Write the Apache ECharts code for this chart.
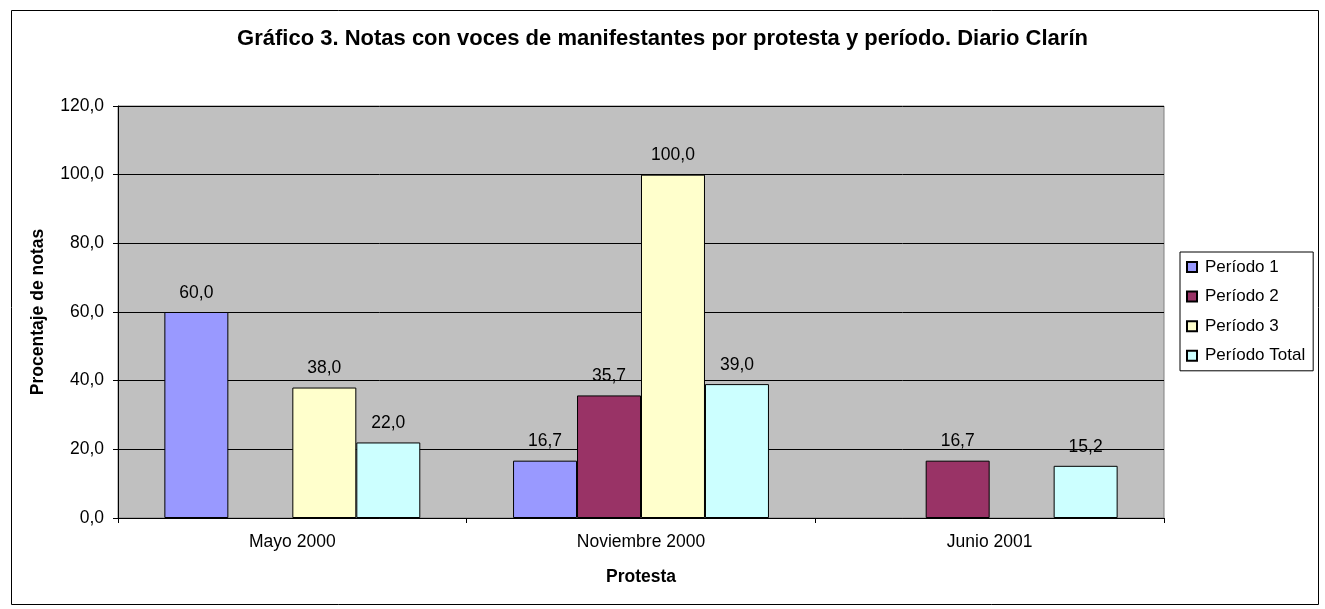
<!DOCTYPE html>
<html><head><meta charset="utf-8">
<script src="https://cdn.jsdelivr.net/npm/echarts@6/dist/echarts.min.js"></script>
<style>html,body{margin:0;padding:0;background:#fff}#c{width:1325px;height:609px}</style>
</head><body><div id="c"></div>
<script>
const categories = ['Mayo 2000', 'Noviembre 2000', 'Junio 2001'];
const seriesNames = ['Período 1', 'Período 2', 'Período 3', 'Período Total'];
const periodo1 = [60.0, 16.7, null];
const periodo2 = [null, 35.7, 16.7];
const periodo3 = [38.0, 100.0, null];
const periodoTotal = [22.0, 39.0, 15.2];
const yTicks = [0, 20, 40, 60, 80, 100, 120];
const colors = ['#9999FF', '#993366', '#FFFFCC', '#CCFFFF'];
const dataSets = [periodo1, periodo2, periodo3, periodoTotal];
const fmt = v => Number(v).toFixed(1).replace('.', ',');
const FF = 'Liberation Sans, Arial, sans-serif';
const FS = 17.5;

const chart = echarts.init(document.getElementById('c'));
chart.setOption({
  animation: false,
  backgroundColor: '#fff',
  textStyle: { fontFamily: FF },
  title: {
    text: 'Gráfico 3. Notas con voces de manifestantes por protesta y período. Diario Clarín',
    left: 'center', top: 23,
    textStyle: { fontFamily: FF, fontSize: 22, fontWeight: 'bold', color: '#000' }
  },
  graphic: [{
    type: 'rect', left: 9, top: 8, shape: { width: 1307, height: 594 },
    style: { fill: 'none', stroke: '#000', lineWidth: 1 }, silent: true, z: -1
  }],
  legend: {
    orient: 'vertical', left: 1180, top: 252,
    data: seriesNames,
    icon: 'rect', itemWidth: 10, itemHeight: 10, itemGap: 9.6,
    padding: [5, 8, 5, 6],
    borderColor: '#000', borderWidth: 1,
    textStyle: { fontFamily: FF, fontSize: 17, color: '#000', lineHeight: 20, padding: [0, 0, 0, 3] }
  },
  grid: { left: 118, right: 161, top: 106, bottom: 91, show: true, backgroundColor: '#C0C0C0', borderColor: '#808080', borderWidth: 1 },
  xAxis: {
    type: 'category', data: categories,
    name: 'Protesta', nameLocation: 'middle', nameGap: 50,
    nameTextStyle: { fontFamily: FF, fontSize: FS, fontWeight: 'bold', color: '#000' },
    axisLine: { lineStyle: { color: '#000' } },
    axisTick: { show: true, length: 5, lineStyle: { color: '#000' } },
    axisLabel: { fontFamily: FF, fontSize: FS, color: '#000', margin: 15 }
  },
  yAxis: {
    type: 'value', min: yTicks[0], max: yTicks[yTicks.length - 1], interval: 20,
    name: 'Procentaje de notas', nameLocation: 'middle', nameGap: 71, nameRotate: 90,
    nameTextStyle: { fontFamily: FF, fontSize: FS, fontWeight: 'bold', color: '#000' },
    axisLine: { show: true, lineStyle: { color: '#000' } },
    axisTick: { show: true, length: 5, lineStyle: { color: '#000' } },
    axisLabel: { fontFamily: FF, fontSize: FS, color: '#000', margin: 14, formatter: v => fmt(v) },
    splitLine: { show: true, lineStyle: { color: '#000', width: 1 } }
  },
  series: seriesNames.map((n, i) => ({
    name: n, type: 'bar', data: dataSets[i],
    barGap: '0%', barCategoryGap: '26.6%',
    itemStyle: { color: colors[i], borderColor: '#000', borderWidth: 1 },
    label: { show: true, position: 'top', distance: 10, fontFamily: FF, fontSize: FS, color: '#000', formatter: p => fmt(p.value) }
  }))
});
</script></body></html>
